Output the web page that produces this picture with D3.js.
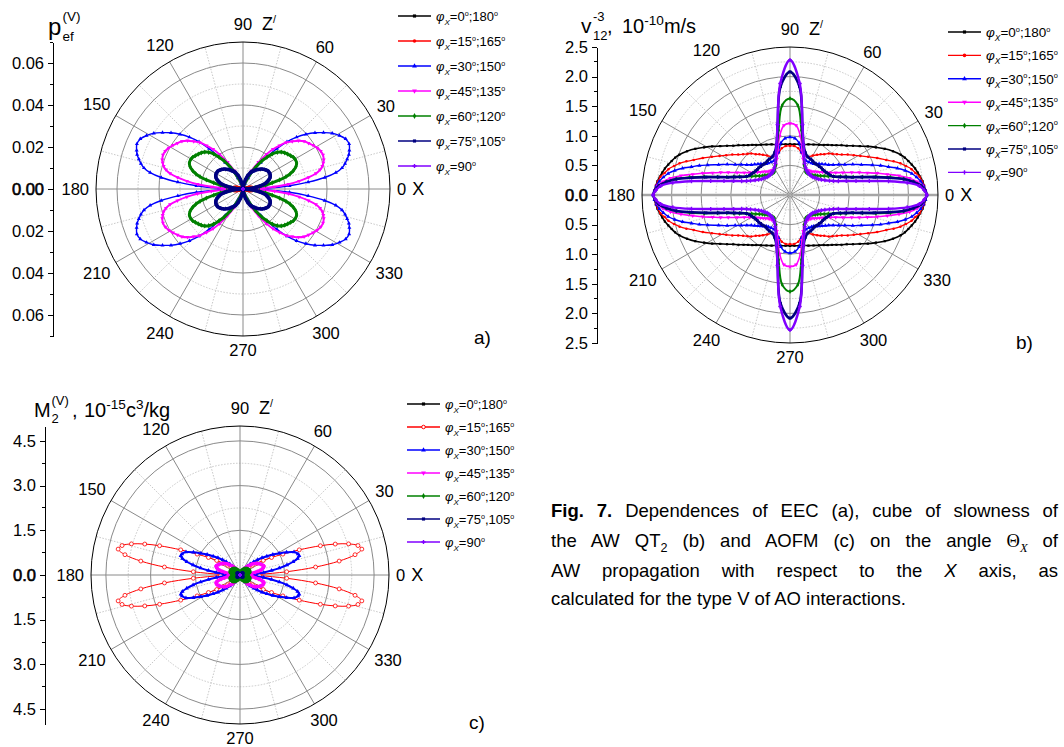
<!DOCTYPE html>
<html>
<head>
<meta charset="utf-8">
<title>Fig. 7</title>
<script src="https://cdn.jsdelivr.net/npm/d3@7"></script>
<style>
    body { margin: 0; background: #fff; }
    svg text { font-family: "Liberation Sans", Arial, sans-serif; fill: #000; }
    .axis path, .axis line { stroke: #000; stroke-width: 1; shape-rendering: crispEdges; }
</style>
</head>
<body>
<svg id="fig" width="1064" height="747"></svg>
<script>

// angles of one quadrant (deg), the curves are symmetric and get mirrored
var angles = [0,2,4,6,8,10,12,14,16,18,20,23,26,29,32,35,38,41,44,47,50,53,56,60,65,70,75,80,85,90];

var legendLabels = ["=0°;180°", "=15°;165°", "=30°;150°", "=45°;135°", "=60°;120°", "=75°,105°", "=90°"];

// (a) EEC p_ef
var eec0  = [0,0,0,0,0,0,0,0,0,0,0,0,0,0,0,0,0,0,0,0,0,0,0,0,0,0,0,0,0,0];
var eec15 = [0,0.0019,0.0033,0.0043,0.0047,0.0047,0.0045,0.0040,0.0035,0.0031,0.0026,0.0021,0.0017,0.0012,0.0009,0.0007,0.0005,0.0004,0.0003,0.0002,0.0002,0.0001,0.0001,0,0,0,0,0,0,0];
var eec30 = [0,0.0114,0.0222,0.0312,0.0393,0.0449,0.0482,0.0501,0.0516,0.0530,0.0539,0.0549,0.0544,0.0525,0.0501,0.0468,0.0435,0.0397,0.0355,0.0307,0.0251,0.0194,0.0151,0.0099,0.0057,0.0028,0.0014,0.0005,0.0001,0];
var eec45 = [0,0.0076,0.0151,0.0218,0.0270,0.0317,0.0355,0.0378,0.0393,0.0402,0.0409,0.0414,0.0412,0.0404,0.0393,0.0381,0.0369,0.0350,0.0326,0.0303,0.0270,0.0237,0.0199,0.0147,0.0095,0.0057,0.0028,0.0014,0.0005,0];
var eec60 = [0,0.0019,0.0038,0.0057,0.0080,0.0109,0.0142,0.0180,0.0213,0.0237,0.0255,0.0274,0.0284,0.0286,0.0284,0.0277,0.0270,0.0263,0.0253,0.0239,0.0218,0.0189,0.0161,0.0118,0.0076,0.0043,0.0021,0.0009,0.0003,0];
var eec75 = [0,0.0017,0.0033,0.0050,0.0066,0.0083,0.0097,0.0109,0.0118,0.0125,0.0132,0.0140,0.0144,0.0147,0.0147,0.0147,0.0144,0.0140,0.0135,0.0130,0.0123,0.0116,0.0109,0.0099,0.0088,0.0069,0.0047,0.0028,0.0014,0];
var eec90 = [0,0,0,0,0,0,0,0,0,0,0,0,0,0,0,0,0,0,0,0,0,0,0,0,0,0,0,0,0,0];

// (b) cube of slowness v12^-3, 10^-10 m/s
var slow0  = [2.31,2.29,2.27,2.25,2.22,2.19,2.16,2.12,2.08,2.04,1.99,1.89,1.78,1.66,1.55,1.44,1.35,1.27,1.21,1.15,1.10,1.06,1.02,0.98,0.94,0.91,0.88,0.87,0.86,0.86];
var slow15 = [2.31,2.29,2.27,2.24,2.21,2.15,2.10,2.02,1.94,1.84,1.73,1.60,1.47,1.36,1.27,1.19,1.11,1.05,1.00,0.96,0.90,0.86,0.82,0.77,0.71,0.72,0.74,0.80,0.83,0.83];
var slow30 = [2.31,2.29,2.26,2.22,2.16,2.09,1.99,1.87,1.73,1.61,1.48,1.31,1.18,1.06,0.97,0.89,0.83,0.79,0.75,0.72,0.69,0.66,0.65,0.64,0.64,0.67,0.75,0.89,0.96,0.98];
var slow45 = [2.31,2.28,2.24,2.16,2.04,1.87,1.68,1.52,1.36,1.23,1.11,0.97,0.86,0.78,0.72,0.67,0.63,0.60,0.57,0.54,0.53,0.52,0.51,0.52,0.56,0.65,0.79,1.01,1.18,1.21];
var slow60 = [2.31,2.28,2.22,2.10,1.94,1.72,1.48,1.26,1.11,1.00,0.91,0.80,0.72,0.66,0.61,0.57,0.54,0.51,0.49,0.48,0.47,0.47,0.47,0.51,0.56,0.70,0.86,1.11,1.52,1.63];
var slow75 = [2.31,2.28,2.22,2.10,1.94,1.68,1.45,1.25,1.09,0.98,0.89,0.80,0.76,0.74,0.72,0.71,0.70,0.70,0.69,0.69,0.68,0.68,0.69,0.70,0.71,0.76,0.88,1.20,1.84,2.08];
var slow90 = [2.31,2.27,2.19,1.99,1.68,1.36,1.14,0.98,0.85,0.77,0.71,0.64,0.59,0.55,0.53,0.51,0.49,0.48,0.48,0.48,0.48,0.49,0.50,0.53,0.59,0.70,0.88,1.21,1.89,2.28];

// (c) AOFM M2, 10^-15 c^3/kg
var aofm0  = [0,0,0,0,0,0,0,0,0,0,0,0,0,0,0,0,0,0,0,0,0,0,0,0,0,0,0,0,0,0];
var aofm15 = [0,0.65,1.57,2.55,3.36,3.92,4.18,4.08,3.79,3.36,2.87,2.16,1.60,1.21,0.92,0.68,0.53,0.39,0.29,0.22,0.17,0.13,0.10,0.07,0.04,0.02,0.01,0,0,0];
var aofm30 = [0,0.27,0.54,0.80,1.07,1.34,1.61,1.84,2.01,2.09,2.07,1.97,1.74,1.50,1.30,1.10,0.94,0.77,0.64,0.50,0.40,0.30,0.23,0.17,0.10,0.05,0.02,0.01,0,0];
var aofm45 = [0,0.10,0.20,0.30,0.40,0.52,0.64,0.74,0.80,0.84,0.85,0.84,0.80,0.77,0.72,0.68,0.64,0.57,0.50,0.43,0.37,0.30,0.25,0.18,0.12,0.07,0.03,0.02,0.01,0];
var aofm60 = [0,0.05,0.10,0.14,0.18,0.22,0.25,0.28,0.30,0.32,0.33,0.33,0.33,0.33,0.32,0.31,0.30,0.29,0.27,0.26,0.24,0.22,0.20,0.17,0.13,0.09,0.05,0.03,0.01,0];
var aofm75 = [0,0.01,0.02,0.03,0.04,0.05,0.06,0.07,0.08,0.09,0.10,0.11,0.11,0.12,0.12,0.12,0.12,0.11,0.11,0.10,0.09,0.08,0.07,0.06,0.04,0.03,0.02,0.01,0.005,0];
var aofm90 = [0,0,0,0,0,0,0,0,0,0,0,0,0,0,0,0,0,0,0,0,0,0,0,0,0,0,0,0,0,0];

var colors = ["#000000", "#ff0000", "#0000ff", "#ff00ff", "#008000", "#000080", "#8000ff"];
var symbols = [d3.symbolSquare, d3.symbolCircle, d3.symbolTriangle, d3.symbolTriangle, d3.symbolDiamond, d3.symbolSquare, d3.symbolCross];

var svg = d3.select("#fig");

// text with sub/superscript parts
function rich(text, segs, fs) {
    var shift = 0;
    segs.forEach(function(s) {
        if (s.t === "") return;
        var target = s.sup ? -0.4 * fs : (s.sub ? 0.28 * fs : 0);
        var ts = text.append("tspan").attr("dy", target - shift).text(s.t);
        if (s.sup || s.sub) ts.style("font-size", (fs * (s.k || 0.68)) + "px");
        if (s.it) ts.style("font-style", "italic");
        if (s.b) ts.style("font-weight", "bold");
        if (s.f) ts.style("font-family", s.f);
        if (s.x !== undefined) ts.attr("x", s.x);
        shift = target;
    });
    return text;
}

function legendSegs(label) {
    var segs = [{t: "φ", it: true}, {t: "X", sub: true, it: true, k: 0.62}];
    label.split("°").forEach(function(part, i, arr) {
        segs.push({t: part});
        if (i < arr.length - 1) segs.push({t: "o", sup: true, k: 0.55});
    });
    return segs;
}

// full turn from one quadrant
function mirror(vals) {
    var pts = [], i;
    for (i = 0; i < angles.length; i++) pts.push([angles[i], vals[i]]);
    for (i = angles.length - 2; i >= 0; i--) pts.push([180 - angles[i], vals[i]]);
    for (i = 1; i < angles.length; i++) pts.push([180 + angles[i], vals[i]]);
    for (i = angles.length - 2; i > 0; i--) pts.push([360 - angles[i], vals[i]]);
    return pts;
}

function polarPanel(p) {
    var g = svg.append("g");
    var r = d3.scaleLinear().domain([0, p.max]).range([0, p.R]);

    // rings
    var nRing = Math.ceil(p.max / p.minor - 1e-6);
    d3.range(1, nRing).forEach(function(k) {
        var solid = k % 2 === 0;
        g.append("circle")
            .attr("cx", p.cx).attr("cy", p.cy).attr("r", r(k * p.minor))
            .attr("fill", "none")
            .attr("stroke", solid ? "#8a8a8a" : "#c8c8c8")
            .attr("stroke-width", 1)
            .attr("stroke-dasharray", solid ? null : "1.5,1.5");
    });

    // spokes
    d3.range(0, 360, 15).forEach(function(a) {
        var rad = a * Math.PI / 180;
        var solid = a % 30 === 0;
        var horiz = (a === 0 || a === 180) && p.thick;
        g.append("line")
            .attr("x1", p.cx).attr("y1", p.cy)
            .attr("x2", p.cx + p.R * Math.cos(rad))
            .attr("y2", p.cy - p.R * Math.sin(rad))
            .attr("stroke", horiz ? "#a6a6a6" : (solid ? "#8a8a8a" : "#c8c8c8"))
            .attr("stroke-width", horiz ? 2.5 : 1)
            .attr("stroke-dasharray", solid ? null : "1.5,1.5");
    });

    g.append("circle")
        .attr("cx", p.cx).attr("cy", p.cy).attr("r", p.R)
        .attr("fill", "none").attr("stroke", "#000").attr("stroke-width", 1);

    // angle labels
    d3.range(0, 360, 30).forEach(function(a) {
        var t = g.append("text").style("font-size", "16.5px").attr("text-anchor", "middle").text(a);
        var w = t.node().getComputedTextLength(), h = 11.8;
        var rad = a * Math.PI / 180, c = Math.cos(rad), s = Math.sin(rad);
        var gap = a === 90 ? 12 : (a === 270 ? 8 : 7);
        var d = p.R + gap + w / 2 * Math.abs(c) + h / 2 * Math.abs(s);
        var x = p.cx + d * c, y = p.cy - d * s + h / 2;
        t.attr("x", x).attr("y", y);
        if (a === 0) {
            g.append("text").attr("x", x + w / 2 + 6).attr("y", y)
                .style("font-size", "18px").text("X");
        }
        if (a === 90) {
            rich(g.append("text").attr("x", p.cx + 19).attr("y", y).style("font-size", "18px"),
                [{t: "Z"}, {t: "/", sup: true, k: 0.6}], 18);
        }
    });

    // curves
    var line = d3.lineRadial()
        .angle(function(d) { return (90 - d[0]) * Math.PI / 180; })
        .radius(function(d) { return r(d[1]); })
        .curve(d3.curveCatmullRomClosed.alpha(0.5));

    p.data.forEach(function(vals, i) {
        var pts = mirror(vals);
        var sg = g.append("g").attr("transform", "translate(" + p.cx + "," + p.cy + ")");
        sg.append("path")
            .attr("d", line(pts))
            .attr("fill", "none")
            .attr("stroke", colors[i])
            .attr("stroke-width", p.widths[i])
            .attr("stroke-linejoin", "round");
        var sym = d3.symbol().type(symbols[i]).size(p.sizes[i]);
        sg.selectAll(".m" + i)
            .data(pts)
            .enter().append("path")
            .attr("class", "m" + i)
            .attr("d", sym)
            .attr("transform", function(d) {
                var rad = d[0] * Math.PI / 180;
                return "translate(" + (r(d[1]) * Math.cos(rad)) + "," + (-r(d[1]) * Math.sin(rad)) + ")" +
                    (i === 3 ? " rotate(180)" : "");
            })
            .attr("fill", p.open && p.open[i] ? "#fff" : colors[i])
            .attr("stroke", p.open && p.open[i] ? colors[i] : "none")
            .attr("stroke-width", 0.8);
    });

    // radial axis on the left
    var y = d3.scaleLinear().domain([-p.max, p.max]).range([p.cy + p.R, p.cy - p.R]);
    var N = Math.floor(p.max / p.minor + 1e-6);
    var majors = [], minors = [];
    d3.range(-N, N + 1).forEach(function(k) {
        var v = k * p.minor;
        if (k % 2 === 0) majors.push(v); else minors.push(v);
    });
    var fmt = d3.format(p.fmt);
    var ax = g.append("g").attr("class", "axis")
        .attr("transform", "translate(" + p.axisX + ",0)")
        .call(d3.axisLeft(y).tickValues(majors).tickSize(5).tickPadding(4).tickSizeOuter(0)
            .tickFormat(function(v) { return fmt(Math.abs(v) < 1e-9 ? 0 : Math.abs(v)); }));
    ax.selectAll("text")
        .style("font-size", "16.5px")
        .style("font-family", "'Liberation Sans', Arial, sans-serif")
        .attr("fill", "#000")
        .attr("stroke", function(v) { return Math.abs(v) < 1e-9 ? "#000" : null; })
        .attr("stroke-width", 0.6);
    ax.selectAll(".minor").data(minors).enter().append("line")
        .attr("x1", -3).attr("x2", 0)
        .attr("y1", function(v) { return y(v); }).attr("y2", function(v) { return y(v); });

    // legend
    legendLabels.forEach(function(lab, i) {
        var ly = p.legY + i * p.legDy;
        g.append("line")
            .attr("x1", p.legX).attr("x2", p.legX + 33).attr("y1", ly).attr("y2", ly)
            .attr("stroke", colors[i]).attr("stroke-width", 1.4);
        g.append("path")
            .attr("d", d3.symbol().type(symbols[i]).size(10))
            .attr("transform", "translate(" + (p.legX + 16.5) + "," + ly + ")" + (i === 3 ? " rotate(180)" : ""))
            .attr("fill", p.open && p.open[i] ? "#fff" : colors[i])
            .attr("stroke", p.open && p.open[i] ? colors[i] : "none");
        rich(g.append("text").attr("x", p.legX + 38).attr("y", ly + 5).style("font-size", p.legFs + "px"),
            legendSegs(lab), p.legFs);
    });

    svg.append("text").attr("x", p.tagX).attr("y", p.tagY).style("font-size", "19px").text(p.tag);
}

polarPanel({
    cx: 243, cy: 189, R: 147, max: 0.07, minor: 0.01, fmt: ".2f", axisX: 53, thick: false,
    data: [eec0, eec15, eec30, eec45, eec60, eec75, eec90],
    widths: [1, 1.6, 1.4, 1.9, 3, 3.6, 1.2],
    sizes: [6, 6, 7, 7, 8, 8, 8],
    legX: 398, legY: 16, legDy: 25, legFs: 13,
    tag: "a)", tagX: 474, tagY: 344
});

polarPanel({
    cx: 790, cy: 195, R: 148, max: 2.5, minor: 0.25, fmt: ".1f", axisX: 597, thick: true,
    data: [slow0, slow15, slow30, slow45, slow60, slow75, slow90],
    widths: [1.6, 1.3, 1.4, 1.6, 2, 2.6, 2.4],
    sizes: [5, 5, 7, 7, 7, 8, 9],
    legX: 948, legY: 32, legDy: 23.4, legFs: 13.5,
    tag: "b)", tagX: 1016, tagY: 349
});

polarPanel({
    cx: 240, cy: 575, R: 149, max: 5.0, minor: 0.75, fmt: ".1f", axisX: 45, thick: false,
    data: [aofm0, aofm15, aofm30, aofm45, aofm60, aofm75, aofm90],
    widths: [1, 1, 2, 3.2, 5, 2, 1.2],
    sizes: [6, 12, 8, 8, 10, 6, 8],
    open: [false, true, false, false, false, false, false],
    legX: 407, legY: 404, legDy: 23, legFs: 13,
    tag: "c)", tagX: 469, tagY: 729
});

// axis titles
svg.append("text").attr("x", 48).attr("y", 35).style("font-size", "24px").text("p");
svg.append("text").attr("x", 62.5).attr("y", 21).style("font-size", "13.5px").text("(V)");
svg.append("text").attr("x", 62.5).attr("y", 41).style("font-size", "13.5px").text("ef");

svg.append("text").attr("x", 581).attr("y", 33).style("font-size", "21px").text("v");
svg.append("text").attr("x", 593).attr("y", 21).style("font-size", "13px").text("-3");
svg.append("text").attr("x", 593).attr("y", 40).style("font-size", "13px").text("12");
rich(svg.append("text").attr("x", 607).attr("y", 33).style("font-size", "20px"),
    [{t: ","}, {t: "10", x: 622}, {t: "-10", sup: true}, {t: "m/s"}], 20);

svg.append("text").attr("x", 34).attr("y", 417).style("font-size", "20px").text("M");
svg.append("text").attr("x", 51.5).attr("y", 405).style("font-size", "13px").text("(V)");
svg.append("text").attr("x", 51.5).attr("y", 423).style("font-size", "13px").text("2");
rich(svg.append("text").attr("x", 72).attr("y", 417).style("font-size", "20px"),
    [{t: ","}, {t: "10", x: 84}, {t: "-15", sup: true}, {t: "c"}, {t: "3", sup: true}, {t: "/kg"}], 20);

// caption, justified lines
var capLines = [
    [{t: "Fig. 7.", b: true}, {t: " Dependences of EEC (a), cube of slowness of"}],
    [{t: "the AW QT"}, {t: "2", sub: true}, {t: " (b) and AOFM (c) on the angle "},
        {t: "Θ", f: "'Liberation Serif', serif"}, {t: "X", sub: true, it: true, f: "'Liberation Serif', serif"}, {t: " of"}],
    [{t: "AW propagation with respect to the "}, {t: "X", it: true}, {t: " axis, as"}],
    [{t: "calculated for the type V of AO interactions."}]
];
var capY = [517, 547, 577, 605];
capLines.forEach(function(segs, i) {
    var t = rich(svg.append("text").attr("x", 551).attr("y", capY[i]).style("font-size", "18.5px"), segs, 18.5);
    if (i < 3) {
        var L = t.node().getComputedTextLength();
        var n = segs.map(function(s) { return s.t; }).join("").split(" ").length - 1;
        t.attr("word-spacing", (1058 - 551 - L) / n);
    }
});

</script>
</body>
</html>
